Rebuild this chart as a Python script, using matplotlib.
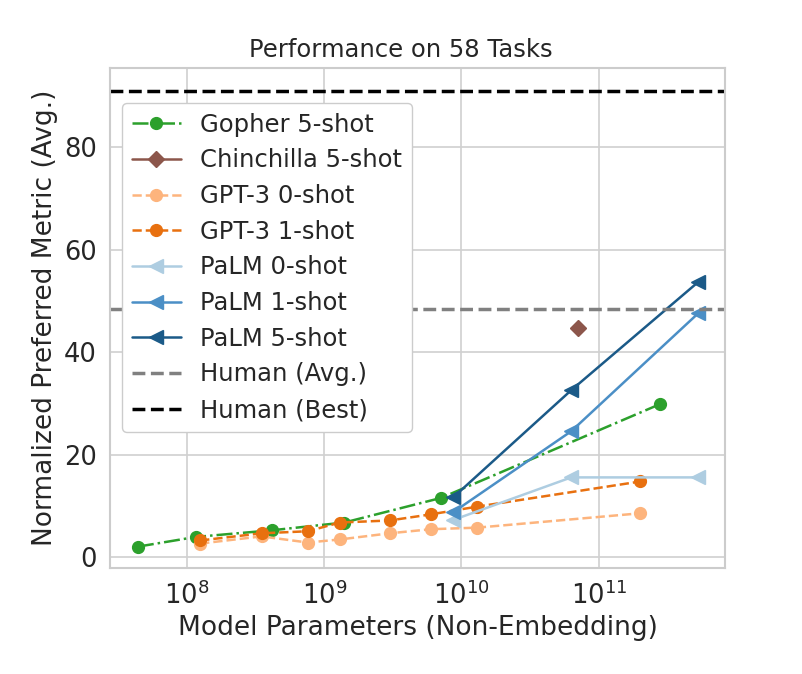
import matplotlib
matplotlib.use("Agg")
import matplotlib.pyplot as plt
import seaborn as sns

# values
gopher_params = [4.4e7, 1.17e8, 4.2e8, 1.4e9, 7.1e9, 2.8e11]
gopher_5shot = [2.1, 4.0, 5.3, 6.8, 11.6, 29.9]

chinchilla_params = [7.0e10]
chinchilla_5shot = [44.7]

gpt3_params = [1.25e8, 3.5e8, 7.6e8, 1.3e9, 3.0e9, 6.0e9, 1.3e10, 2.0e11]
gpt3_0shot = [2.7, 4.1, 2.9, 3.5, 4.7, 5.5, 5.8, 8.6]
gpt3_1shot = [3.3, 4.7, 5.1, 6.8, 7.2, 8.4, 9.9, 14.8]

palm_params = [8.7e9, 6.3e10, 5.3e11]
palm_0shot = [7.3, 15.6, 15.6]
palm_1shot = [8.8, 24.6, 47.6]
palm_5shot = [11.7, 32.6, 53.7]

human_avg = 48.4
human_best = 90.9

sns.set_style("whitegrid")
plt.rcParams["font.family"] = ["DejaVu Sans"]

fig = plt.figure(figsize=(8.02, 6.74), dpi=100)
ax = fig.add_axes([0.137, 0.157, 0.767, 0.742])

lw = 1.8
ms = 8.5
ax.plot(gopher_params, gopher_5shot, "-.", marker="o", color="#2ca02c",
        lw=lw, ms=ms, label="Gopher 5-shot")
ax.plot(chinchilla_params, chinchilla_5shot, "-", marker="D", color="#8c564b",
        lw=lw, ms=ms, label="Chinchilla 5-shot")
ax.plot(gpt3_params, gpt3_0shot, "--", marker="o", color="#fdb47d",
        lw=lw, ms=ms, label="GPT-3 0-shot")
ax.plot(gpt3_params, gpt3_1shot, "--", marker="o", color="#e8700f",
        lw=lw, ms=ms, label="GPT-3 1-shot")
ax.plot(palm_params, palm_0shot, "-", marker="<", color="#aecde1",
        lw=lw, ms=ms + 1, label="PaLM 0-shot")
ax.plot(palm_params, palm_1shot, "-", marker="<", color="#4b8fc6",
        lw=lw, ms=ms + 1, label="PaLM 1-shot")
ax.plot(palm_params, palm_5shot, "-", marker="<", color="#1b5a88",
        lw=lw, ms=ms + 1, label="PaLM 5-shot")
ax.axhline(human_avg, ls="--", color="#808080", lw=2.5, label="Human (Avg.)")
ax.axhline(human_best, ls="--", color="black", lw=2.5, label="Human (Best)")

ax.set_xscale("log")
ax.set_xlim(2.75e7, 8.3e11)
ax.set_ylim(-2.1, 95.4)
ax.set_yticks([0, 20, 40, 60, 80])
ax.minorticks_off()
ax.grid(True, which="major", color="#d0d0d0", lw=1.2)
for s in ax.spines.values():
    s.set_color("#cccccc")
    s.set_linewidth(1.5)

ax.set_title("Performance on 58 Tasks", fontsize=17.5, x=0.473, pad=8)
ax.set_xlabel("Model Parameters (Non-Embedding)", fontsize=19)
ax.set_ylabel("Normalized Preferred Metric (Avg.)", fontsize=19)
ax.tick_params(labelsize=18.5, pad=6)

ax.legend(loc="upper left", bbox_to_anchor=(0.02, 0.93), borderaxespad=0,
          fontsize=17.5, handlelength=2.0, labelspacing=0.48, framealpha=1)

fig.savefig("out.png", dpi=100)
